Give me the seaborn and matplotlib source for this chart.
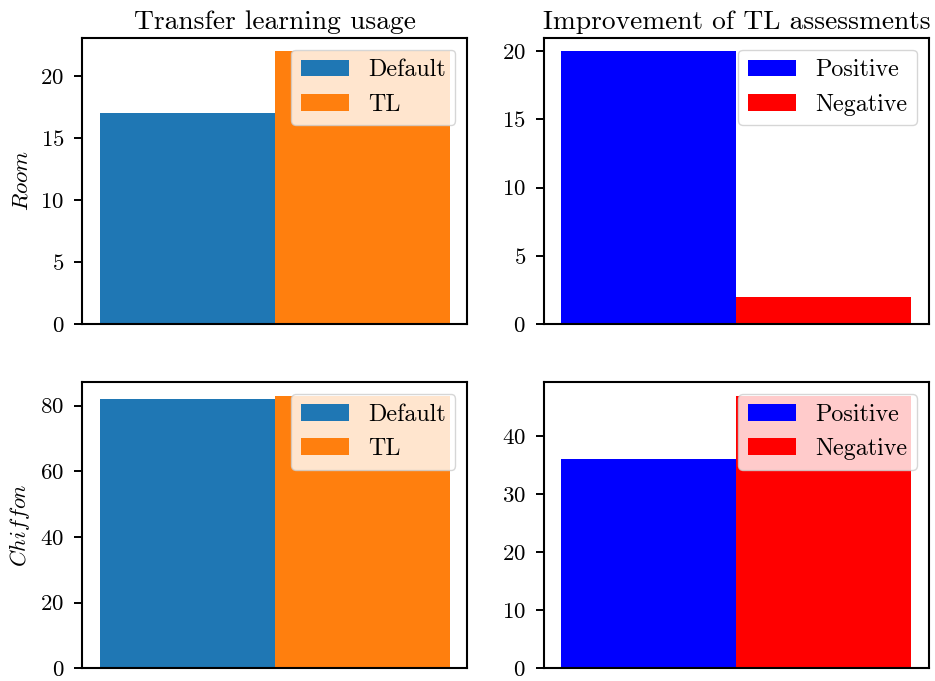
import matplotlib
matplotlib.use("Agg")
import matplotlib.pyplot as plt
import pandas as pd
import seaborn as sns

# Counts per dataset
datasets = ["Room", "Chiffon"]
usage_labels = ["Default", "TL"]
usage_room = [17, 22]
usage_chiffon = [82, 83]
assess_labels = ["Positive", "Negative"]
assess_room = [20, 2]
assess_chiffon = [36, 47]

usage_colors = ["#1f77b4", "#ff7f0e"]
assess_colors = ["blue", "red"]

plt.rcParams["font.family"] = "serif"
plt.rcParams["font.serif"] = ["cmr10"]
plt.rcParams["mathtext.fontset"] = "cm"
plt.rcParams["axes.formatter.use_mathtext"] = True
plt.rcParams["font.size"] = 16.5

fig, axes = plt.subplots(2, 2, figsize=(9.35, 6.81), dpi=100)
fig.subplots_adjust(left=0.0877, right=0.9936, top=0.9447, bottom=0.0187,
                    wspace=0.198, hspace=0.203)

panels = [
    (usage_room, usage_labels, usage_colors),
    (assess_room, assess_labels, assess_colors),
    (usage_chiffon, usage_labels, usage_colors),
    (assess_chiffon, assess_labels, assess_colors),
]

for ax, (vals, labels, colors) in zip(axes.flat, panels):
    df = pd.DataFrame({"group": ["all"] * len(vals), "kind": labels, "count": vals})
    sns.barplot(data=df, x="group", y="count", hue="kind", hue_order=labels,
                palette=colors, saturation=1, linewidth=0, ax=ax)
    ax.set_xticks([])
    ax.set_xlabel("")
    ax.set_ylabel("")
    ax.set_xlim(-0.44, 0.44)
    for s in ax.spines.values():
        s.set_linewidth(1.5)
    ax.tick_params(axis="y", width=1.4, length=5.8, pad=7, labelsize=16.5)
    handles, lbls = ax.get_legend_handles_labels()
    ax.legend(handles, lbls, loc="upper right", fontsize=17.3)

axes[0, 0].set_title("Transfer learning usage", fontsize=19.8)
axes[0, 1].set_title("Improvement of TL assessments", fontsize=19.8)
axes[0, 0].set_ylabel(r"$\mathit{Room}$", fontsize=16.5, labelpad=6)
axes[1, 0].set_ylabel(r"$\mathit{Chiffon}$", fontsize=16, labelpad=6)

fig.savefig("out.png", dpi=100)
